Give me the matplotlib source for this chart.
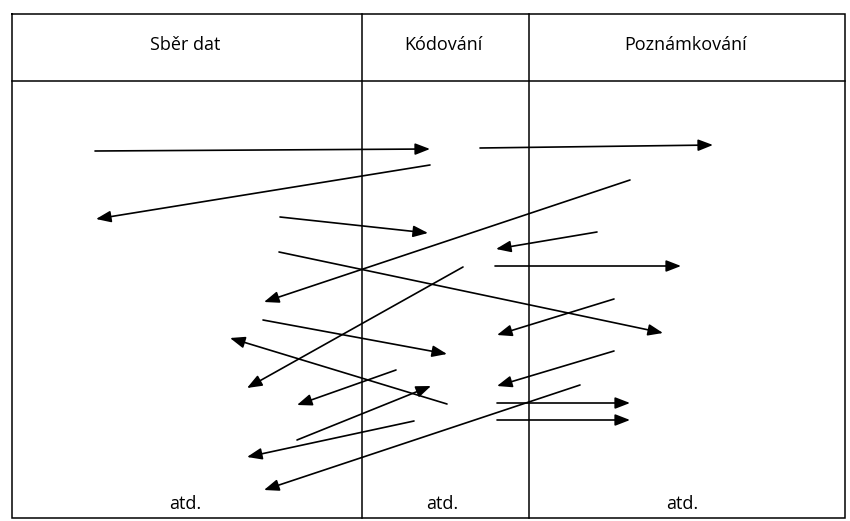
import matplotlib
matplotlib.use("Agg")
import matplotlib.pyplot as plt
from matplotlib.patches import FancyArrowPatch

# Column headers and footers
columns = ["Sběr dat", "Kódování", "Poznámkování"]
footer = ["atd.", "atd.", "atd."]

# Diagram geometry (pixel space of an 850x521 canvas, y downwards)
frame_left, frame_right = 12, 845
frame_top, frame_bottom = 14, 518
header_y = 81
dividers = [362, 529]
header_x = [185, 443, 686]
header_text_y = 45
footer_x = [185, 442, 682]
footer_text_y = 504

# Arrows: start (x0, y0) -> head (x1, y1)
arrow_x0 = [95, 430, 280, 480, 630, 597, 279, 495, 463, 614, 263, 447, 614, 396, 297, 497, 497, 414, 580]
arrow_y0 = [151, 165, 217, 148, 180, 232, 252, 266, 267, 299, 320, 404, 351, 370, 440, 403, 420, 421, 385]
arrow_x1 = [430, 96, 428, 713, 264, 496, 663, 681, 247, 497, 447, 230, 497, 297, 431, 630, 630, 247, 264]
arrow_y1 = [149, 219, 233, 145, 302, 249, 333, 266, 388, 335, 354, 338, 386, 405, 386, 403, 420, 457, 490]

W, H = 850, 521
fig = plt.figure(figsize=(W / 100, H / 100), dpi=100)
ax = fig.add_axes([0, 0, 1, 1])
ax.set_xlim(0, W)
ax.set_ylim(H, 0)
ax.axis("off")

lc = "#000000"
# frame
ax.plot([frame_left, frame_right, frame_right, frame_left, frame_left],
        [frame_top, frame_top, frame_bottom, frame_bottom, frame_top],
        color=lc, lw=1.1, solid_joinstyle="miter")
ax.plot([frame_left, frame_right], [header_y, header_y], color=lc, lw=1.1)
for d in dividers:
    ax.plot([d, d], [frame_top, frame_bottom], color=lc, lw=1.1)

font = ["Open Sans", "DejaVu Sans"]
for x, t in zip(header_x, columns):
    ax.text(x, header_text_y, t, ha="center", va="center", fontsize=13,
            family=font, color=lc)
for x, t in zip(footer_x, footer):
    ax.text(x, footer_text_y, t, ha="center", va="center", fontsize=13,
            family=font, color=lc)

for x0, y0, x1, y1 in zip(arrow_x0, arrow_y0, arrow_x1, arrow_y1):
    arr = FancyArrowPatch((x0, y0), (x1, y1),
                          arrowstyle="-|>,head_length=9,head_width=3.5",
                          mutation_scale=1, lw=1.2, color=lc,
                          shrinkA=0, shrinkB=0)
    ax.add_patch(arr)

fig.savefig("out.png", dpi=100, facecolor="white")
